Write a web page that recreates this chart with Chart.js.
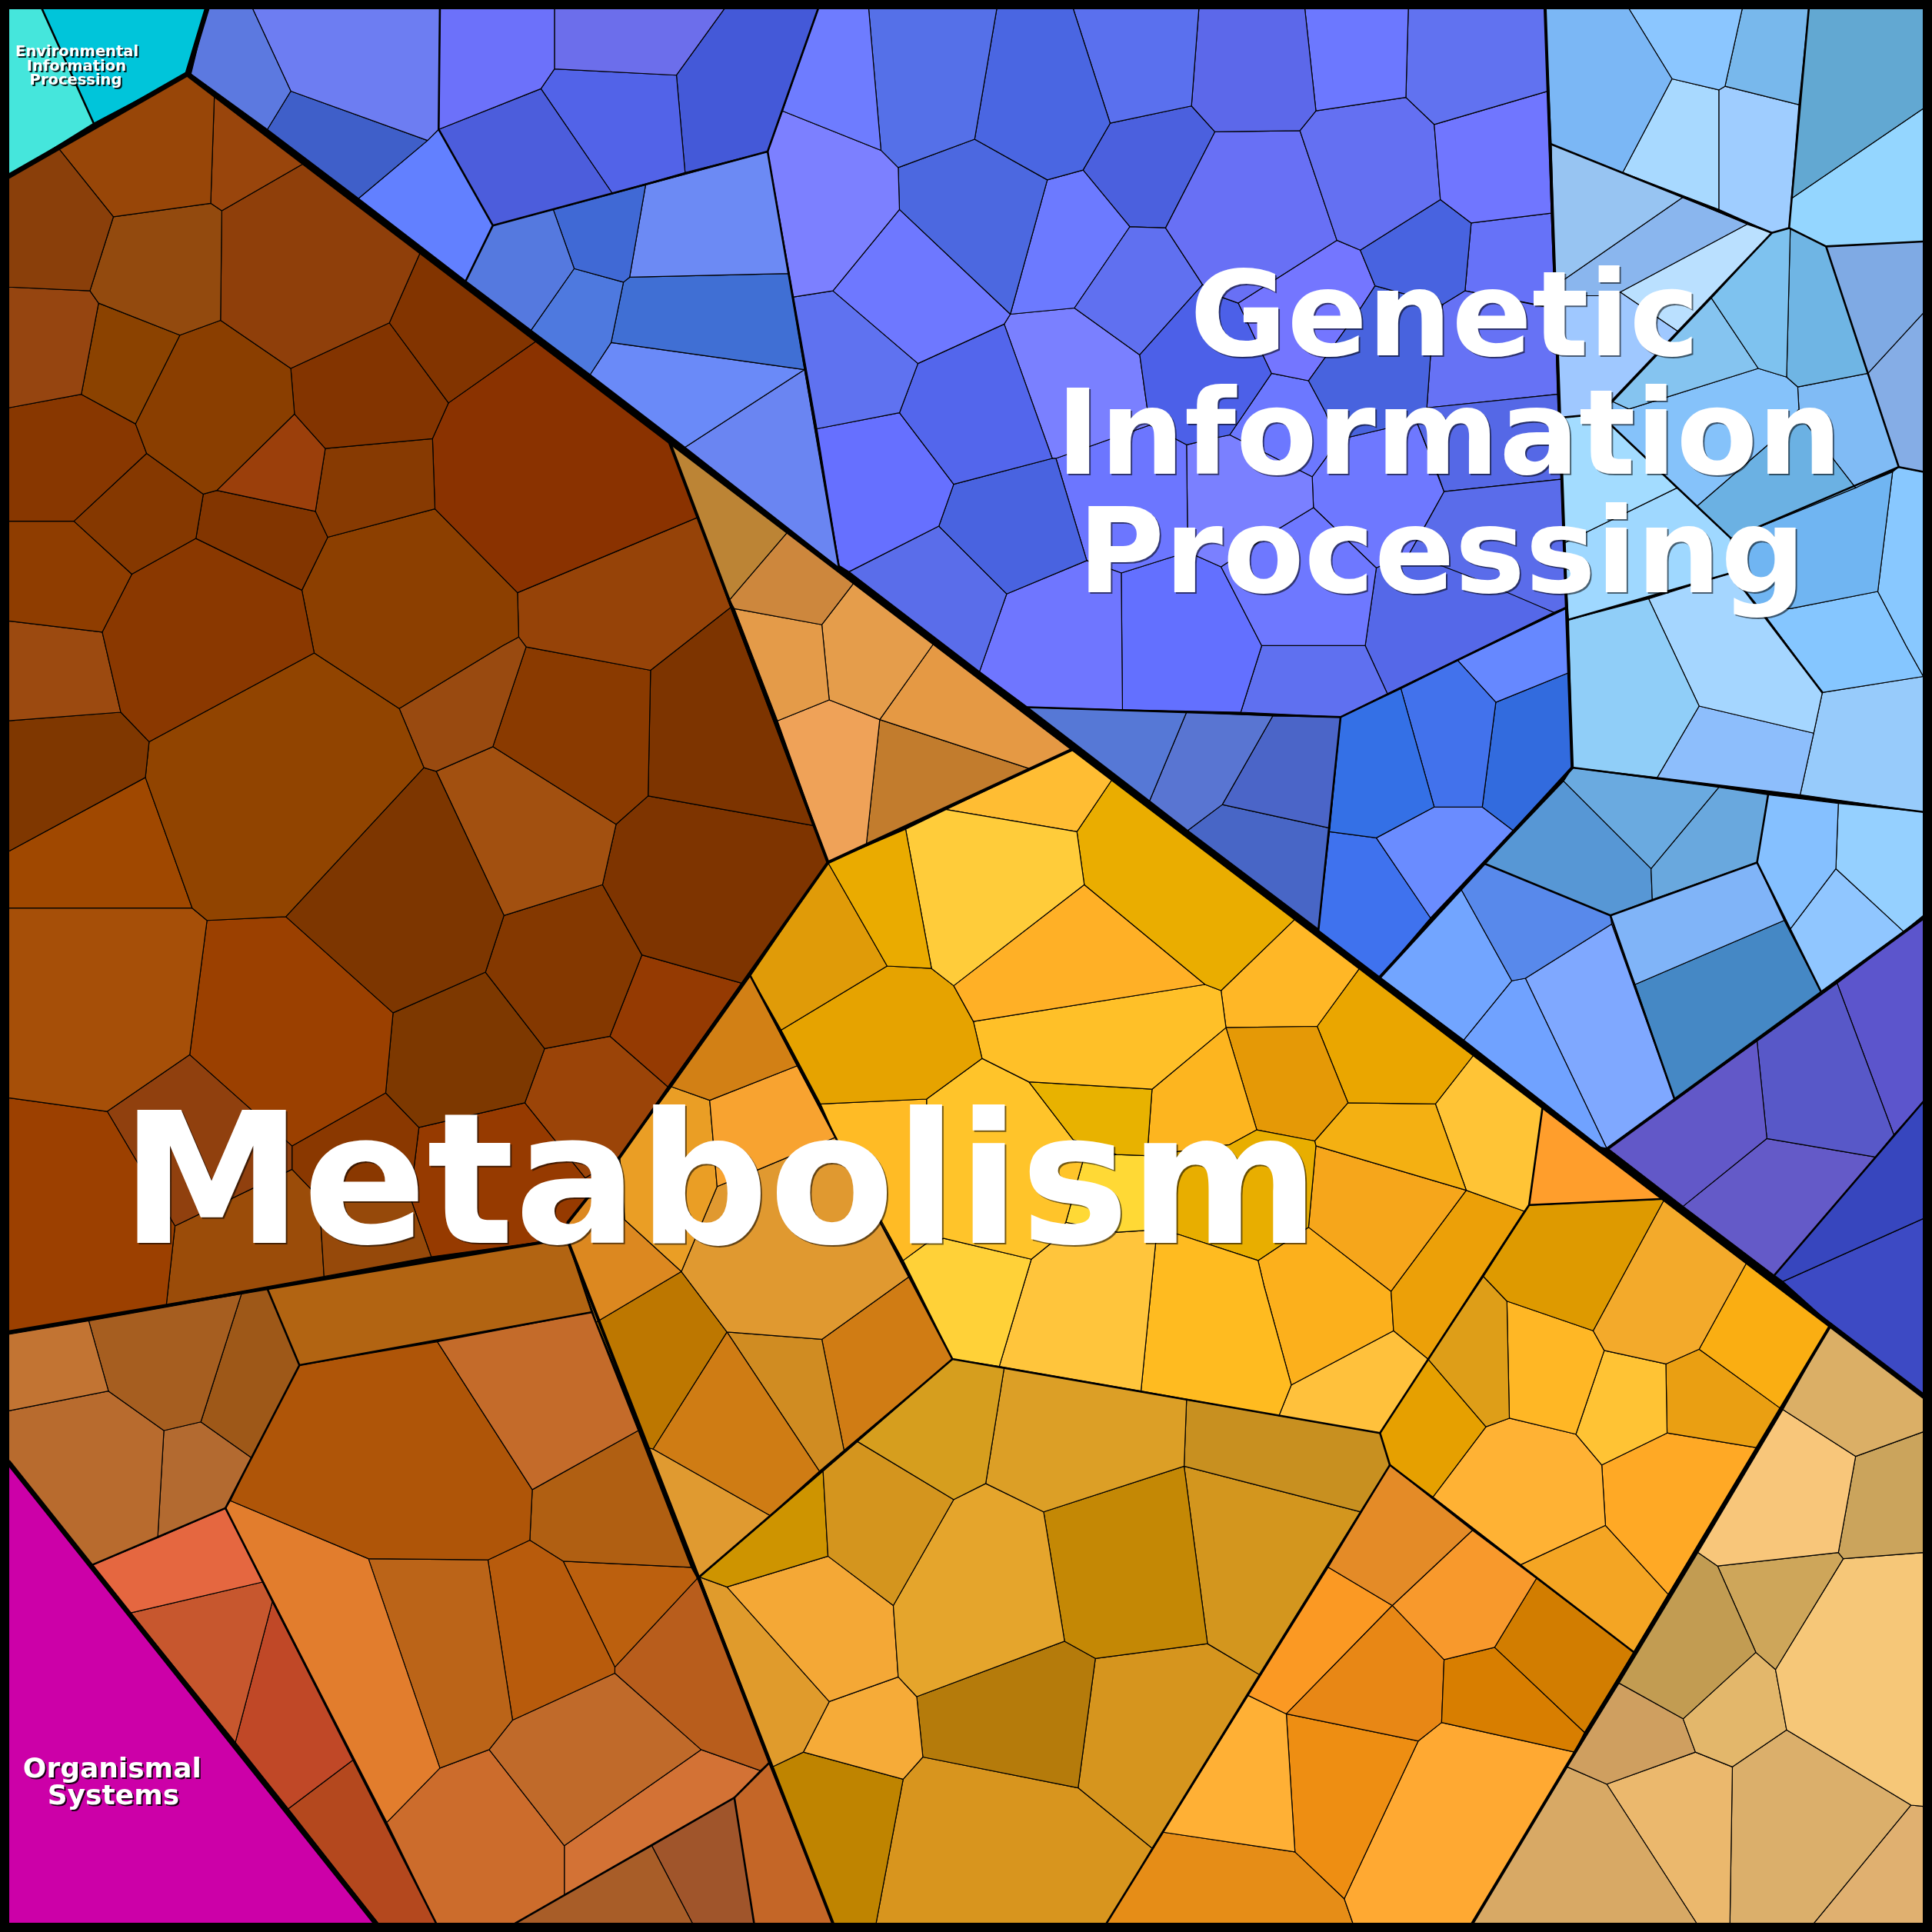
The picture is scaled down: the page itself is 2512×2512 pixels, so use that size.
<!DOCTYPE html>
<html>
<head>
<meta charset="utf-8">
<title>Voronoi treemap</title>
<script src="https://cdn.jsdelivr.net/npm/chart.js@4"></script>
<style>
  html, body { margin: 0; padding: 0; background: #000; }
  canvas { display: block; }
</style>
</head>
<body>
<canvas id="voronoi" width="2512" height="2512"></canvas>
<script>
// every cell is a flat x,y list in a 1568 x 1568 value space, colours sit in a parallel list
const envCells = [
  [7,7,34,7,76,100,7,143],
  [34,7,168,7,152,60,76,100]
];
const envColours = ['#45E6DC','#00C5DA'];

const organismCells = [
  [7,1187,305,1561,7,1561]
];
const organismColours = ['#CC00A8'];

const blueLeftCells = [
  [168,7,205,7,236,74,217,105,155,60],
  [205,7,357,7,356,105,347,114,236,74],
  [236,74,347,114,291,161,217,105],
  [356,105,400,183,378,228,291,161,347,114],
  [357,7,450,7,450,56,439,72,356,105],
  [450,7,588,7,549,61,450,56],
  [439,72,497,157,400,183,356,105],
  [450,56,549,61,556,140,497,157,439,72],
  [588,7,664,7,623,123,556,140,549,61],
  [400,183,449,170,466,218,431,268,378,228],
  [449,170,524,150,511,225,506,229,466,218],
  [466,218,506,229,496,278,479,304,431,268],
  [524,150,623,123,640,222,511,225],
  [511,225,640,222,653,300,496,278,506,229],
  [496,278,653,300,556,363,479,304],
  [653,300,681,461,556,363]
];
const blueLeftColours = ['#5C79E0','#6D7DF2','#3F5FC9','#6280FF','#6C71FA','#6C6EEB','#4C5DDC','#5263E8','#4459D8',
  '#5579DF','#4069D5','#4E79DF','#6C8AF4','#406FD4','#6A8AF8','#6A85F2'];

const blueMiddleCells = [
  [664,7,705,7,715,122,635,90],
  [705,7,809,7,791,113,729,136,715,122],
  [809,7,871,7,901,100,879,138,850,146,791,113],
  [871,7,973,7,967,86,901,100],
  [973,7,1059,7,1068,90,1055,106,986,107,967,86],
  [1059,7,1143,7,1141,79,1068,90],
  [1143,7,1254,7,1256,74,1164,101,1141,79],
  [1164,101,1256,74,1259,173,1194,181,1169,162],
  [1055,106,1068,90,1141,79,1164,101,1169,162,1104,203,1085,195],
  [986,107,1055,106,1085,195,1005,246,991,241,976,231,946,185],
  [1104,203,1169,162,1194,181,1189,236,1171,247,1116,232],
  [1116,232,1171,247,1161,289,1158,331,1150,343,1124,348,1094,355,1084,358,1076,335,1062,309,1105,249],
  [1005,246,1085,195,1104,203,1116,232,1105,249,1062,309,1032,303],
  [976,231,991,241,1005,246,1032,303,998,353,988,355,963,361,933,345,925,288],
  [872,250,917,184,946,185,976,231,925,288],
  [635,90,715,122,729,136,730,170,676,236,644,241,623,123],
  [729,136,791,113,850,146,820,255,730,170],
  [850,146,879,138,917,184,872,250,820,255],
  [879,138,901,100,967,86,986,107,946,185,917,184],
  [730,170,820,255,815,263,745,295,676,236],
  [644,241,676,236,745,295,730,335,663,348],
  [745,295,815,263,854,372,774,393,730,335],
  [820,255,872,250,925,288,933,345,857,372,854,372,815,263],
  [663,348,730,335,774,393,762,427,689,464,681,459],
  [774,393,854,372,857,372,882,455,817,482,762,427],
  [689,464,762,427,817,482,795,545],
  [817,482,882,455,910,465,911,576,834,574,795,545],
  [857,372,933,345,963,361,964,448,910,465,882,455],
  [963,361,988,355,998,353,1065,387,1066,412,1038,429,991,460,964,448],
  [991,460,1038,429,1066,412,1117,461,1108,524,1024,524],
  [910,465,964,448,991,460,1024,524,1007,578,911,576],
  [1024,524,1108,524,1126,563,1088,582,1007,578],
  [1117,461,1144,449,1198,470,1261,497,1126,563,1108,524],
  [1172,399,1267,389,1271,493,1261,497,1144,449,1156,428],
  [1158,331,1264,320,1267,389,1172,399,1167,385,1150,343],
  [1094,355,1124,348,1150,343,1172,399,1144,449,1117,461,1066,412,1065,387,1076,372,1084,358],
  [1171,247,1189,236,1254,249,1262,250,1264,320,1158,331,1161,289],
  [1194,181,1259,173,1262,250,1189,236],
  [998,353,1032,303,1062,309,1076,335,1084,358,1076,372,1065,387]
];
const blueMiddleColours = ['#6E7CFF','#5570E8','#4A66E2','#5A70EE','#5C68EA','#6C78FF','#6172F0','#7076FF','#6470F2','#6870F5',
  '#4863E0','#4863DE','#7476FF','#4C60E8','#6070F0','#7C80FF','#4C68E0','#6C7AFF','#4B60DE','#6E78FF',
  '#5F72F0','#5366EC','#7A80FF','#6670FF','#4963E0','#5A6DEA','#6F76FF','#6C76FF','#7A80FF','#6E78FF',
  '#6370FF','#5F70F0','#5568E8','#5A6CEA','#5568E6','#6E78FF','#6672F5','#6672F8','#6C78FF'];

const blueLowCells = [
  [834,574,963,578,933,650],
  [963,578,1033,581,992,653,964,674,933,650],
  [1033,581,1088,582,1079,672,992,653],
  [992,653,1079,672,1070,754,964,674],
  [1088,582,1137,559,1164,655,1117,680,1079,675],
  [1137,559,1183,536,1214,570,1203,655,1164,655],
  [1183,536,1271,494,1273,546,1214,570],
  [1214,570,1273,546,1276,623,1228,674,1203,655],
  [1164,655,1203,655,1228,674,1161,745,1117,680],
  [1079,675,1117,680,1161,745,1120,793,1070,755]
];
const blueLowColours = ['#5678D6','#5975D2','#4B65C8','#4866C6','#3470E6','#4272EC','#6688FF','#326BDE','#6A8CFF','#3F72EE'];

const skyCells = [
  [1254,7,1322,7,1357,64,1317,140,1259,117],
  [1322,7,1414,7,1400,70,1395,73,1357,64],
  [1414,7,1468,7,1460,85,1400,70],
  [1357,64,1395,73,1395,170,1317,140],
  [1395,73,1400,70,1460,85,1452,185,1438,189,1395,170],
  [1468,7,1561,7,1561,88,1454,161],
  [1454,161,1561,88,1561,196,1482,200,1452,185],
  [1482,200,1561,196,1561,254,1516,303],
  [1516,303,1561,254,1561,383,1541,379],
  [1259,117,1366,160,1262,232],
  [1366,160,1418,182,1315,237,1298,240,1263,240,1262,232],
  [1418,182,1438,189,1362,269,1315,237],
  [1263,240,1298,240,1315,237,1362,269,1298,336,1266,339],
  [1389,242,1438,189,1453,185,1450,306,1427,299],
  [1453,185,1482,200,1516,303,1459,314,1450,306],
  [1309,326,1389,242,1427,299,1322,332],
  [1298,336,1309,326,1322,332,1427,299,1450,306,1459,314,1460,332,1436,360,1377,411],
  [1460,332,1465,343,1506,396,1405,437,1377,411,1436,360],
  [1459,314,1516,303,1541,379,1506,396,1465,343,1460,332],
  [1266,339,1298,336,1361,396,1269,441],
  [1269,441,1361,396,1405,437,1405,465,1273,503],
  [1405,437,1536,383,1524,480,1453,494,1426,491,1405,465],
  [1536,383,1541,379,1561,383,1561,549,1547,524,1524,480],
  [1273,503,1338,486,1379,573,1345,631,1276,623],
  [1338,486,1405,465,1426,491,1479,562,1472,595,1379,573],
  [1379,573,1472,595,1461,645,1345,631],
  [1426,491,1453,494,1524,480,1547,524,1561,549,1479,562],
  [1479,562,1561,549,1561,659,1461,645,1472,595]
];
const skyColours = ['#7BB7F5','#8BC6FF','#78B8EC','#A8D9FF','#9FCDFF','#62A8D2','#94D6FF','#7FAAE4','#85ADE6','#97C4F2',
  '#8AB6EE','#BAE0FF','#9FC8FF','#7EC2EF','#6FB5E4','#85C4F0','#85C2FA','#6BB1E3','#80BBF5','#A3DCFF',
  '#9FD8FF','#70B5F2','#88C8FF','#90CEF8','#A5D6FF','#8DBEFC','#85C6FF','#97CBFB'];

const steelCells = [
  [1276,623,1395,639,1340,705,1269,634],
  [1395,639,1435,645,1426,700,1341,730,1340,705],
  [1269,634,1340,705,1341,730,1307,743,1205,701],
  [1205,701,1307,743,1308,750,1238,794,1227,796,1186,722],
  [1120,793,1186,722,1227,796,1188,844],
  [1188,844,1227,796,1238,794,1304,932,1299,931],
  [1238,794,1308,750,1359,892,1304,932],
  [1307,743,1341,730,1426,700,1448,747,1327,799,1308,750],
  [1327,799,1448,747,1478,805,1359,892],
  [1435,645,1492,652,1490,705,1453,754,1426,700],
  [1492,652,1561,659,1561,743,1545,756,1490,705],
  [1453,754,1490,705,1545,756,1478,805]
];
const steelColours = ['#6AAAE0','#69A8DE','#5797D5','#5889EB','#72A5FF','#70A2FF','#7FA8FF','#80B4F8','#4588C5','#85C0FF','#95D0FF','#90C6FF'];

const violetCells = [
  [1305,932,1426,845,1434,924,1366,979],
  [1426,845,1491,798,1537,921,1522,939,1434,924],
  [1491,798,1561,745,1561,894,1537,921],
  [1434,924,1522,939,1440,1035,1366,979],
  [1522,939,1561,894,1561,989,1447,1040,1440,1035],
  [1447,1040,1561,989,1561,1133,1486,1075]
];
const violetColours = ['#6258C8','#5858C8','#5C55CC','#645AC8','#3746BE','#3D4AC4'];

const brownCells = [
  [7,143,48,121,92,176,73,236,7,233],
  [48,121,152,60,174,77,171,165,92,176],
  [174,77,246,133,180,171,171,165],
  [92,176,171,165,180,171,179,260,146,272,80,246,73,236],
  [180,171,246,133,341,205,316,262,236,299,179,260],
  [7,233,73,236,80,246,66,320,7,331],
  [80,246,146,272,110,344,66,320],
  [146,272,179,260,236,299,239,336,176,398,165,401,119,368,110,344],
  [341,205,435,277,364,327,316,262],
  [236,299,316,262,364,327,351,356,264,364,239,336],
  [239,336,264,364,256,415,176,398],
  [264,364,351,356,353,413,266,436,256,415],
  [364,327,435,277,543,358,566,420,420,481,353,413,351,356],
  [7,331,66,320,110,344,119,368,60,423,7,423],
  [119,368,165,401,159,437,107,466,60,423],
  [165,401,176,398,256,415,266,436,245,479,159,437],
  [7,423,60,423,107,466,83,513,7,504],
  [107,466,159,437,245,479,255,530,121,602,98,578,83,513],
  [245,479,266,436,353,413,420,481,421,517,408,524,324,575,255,530],
  [7,504,83,513,98,578,7,585],
  [7,585,98,578,121,602,118,631,7,691],
  [121,602,255,530,324,575,344,623,232,744,168,747,156,737,118,631],
  [324,575,408,524,421,517,427,525,400,606,354,626,344,623],
  [420,481,566,420,593,493,528,544,427,525,421,517],
  [427,525,528,544,526,646,500,669,400,606],
  [344,623,354,626,409,743,394,789,319,822,232,744],
  [354,626,400,606,500,669,489,718,409,743],
  [528,544,593,493,660,670,526,646],
  [500,669,526,646,660,670,672,700,602,798,521,775,489,718],
  [409,743,489,718,521,775,495,841,442,851,394,789],
  [521,775,602,798,542,882,495,841],
  [7,691,118,631,156,737,7,737],
  [7,737,156,737,168,747,154,856,87,902,7,891],
  [168,747,232,744,319,822,313,887,237,930,154,856],
  [319,822,394,789,442,851,426,895,340,915,313,887],
  [442,851,495,841,542,882,503,939,475,956,426,895],
  [7,891,87,902,142,995,135,1059,7,1081],
  [87,902,154,856,237,930,237,949,142,995],
  [237,930,313,887,340,915,333,972,259,972,237,949],
  [259,972,333,972,350,1020,263,1036],
  [142,995,237,949,259,972,263,1036,135,1059],
  [340,915,426,895,475,956,503,939,461,992,460,1005,350,1020,333,972]
];
const brownColours = ['#8A3F0A','#984608','#99450C','#934A0E','#8F3F0A','#964510','#8B4200','#8A3E00','#823400','#833400',
  '#9B3F0B','#873A02','#8A3200','#883700','#853800','#823500','#8F3D00','#8A3800','#8C3F00','#9C4A10',
  '#7F3700','#914400','#994A10','#964308','#8A3A00','#7D3600','#A25010','#7D3400','#7E3400','#843800',
  '#953A02','#A04800','#A64F08','#9B4000','#7D3800','#9B4408','#9C4000','#90400E','#8A3800','#96490A',
  '#9B4C09','#963A00'];

const tanCells = [
  [543,358,639,432,592,487],
  [639,432,693,473,667,507,596,494,592,487],
  [596,494,667,507,673,568,631,585],
  [667,507,693,473,758,522,714,584,673,568],
  [758,522,872,607,836,624,714,584],
  [631,585,673,568,714,584,703,686,672,700],
  [714,584,836,624,703,686]
];
const tanColours = ['#BC8435','#CD873D','#E49B49','#E59D4B','#E59944','#EFA258','#C27C2D'];

const goldCells = [
  [672,700,735,673,756,786,720,784],
  [735,673,768,657,874,675,880,718,774,800,756,786],
  [768,657,873,607,903,632,874,675],
  [903,632,1051,746,991,804,978,799,880,718,874,675],
  [880,718,978,799,790,829,774,800],
  [672,700,720,784,634,836,609,792],
  [720,784,756,786,774,800,790,829,797,859,752,892,666,896,634,836],
  [790,829,978,799,991,804,995,834,935,884,835,878,797,859],
  [835,878,935,884,931,938,906,937,871,925],
  [666,896,752,892,752,1009,733,1023,678,923],
  [752,892,797,859,835,878,871,925,879,942,865,992,853,1009,837,1022,766,1005,752,1009],
  [733,1023,752,1009,766,1005,837,1022,811,1109,773,1103],
  [879,942,906,937,931,938,939,998,907,1000,865,992],
  [837,1022,853,1009,865,992,907,1000,939,998,926,1129,811,1109],
  [939,998,957,1002,1021,1023,1026,1044,1048,1124,1038,1149,926,1129],
  [931,938,998,929,1020,917,1067,926,1068,930,1062,996,1042,1009,1021,1023,957,1002,939,998],
  [935,884,995,834,1020,917,998,929,931,938],
  [995,834,1069,833,1094,895,1067,926,1020,917],
  [991,804,1051,746,1104,785,1069,833,995,834],
  [1104,785,1197,855,1165,896,1094,895,1069,833],
  [1094,895,1165,896,1190,966,1068,930,1067,926],
  [1165,896,1197,855,1252,898,1241,978,1237,983,1190,966],
  [1068,930,1190,966,1129,1048,1062,996],
  [1190,966,1237,983,1159,1103,1131,1080,1129,1048],
  [1021,1023,1042,1009,1062,996,1129,1048,1131,1080,1048,1124,1026,1044],
  [1048,1124,1131,1080,1159,1103,1120,1163,1038,1149],
  [1252,898,1351,973,1241,978]
];
const goldColours = ['#EAAB00','#FFCC3A','#FFBD33','#EAAD00','#FFB026','#E09B08','#E6A300','#FFC028','#E8B200','#FFBB25',
  '#FFC42A','#FFD138','#FFD935','#FFC53C','#FFBB20','#E8AE00','#FDB51F','#E59906','#FFB726','#EAA600',
  '#F4B012','#FFC436','#F6A61B','#ECA008','#FCB01C','#FFC13C','#FF9E2C'];

const amberCells = [
  [1241,978,1351,973,1293,1080,1223,1056,1204,1036],
  [1351,973,1418,1024,1379,1095,1352,1107,1302,1096,1293,1080],
  [1418,1024,1486,1075,1445,1143,1379,1095],
  [1204,1036,1223,1056,1225,1151,1206,1158,1159,1103],
  [1223,1056,1293,1080,1302,1096,1279,1164,1225,1151],
  [1302,1096,1352,1107,1353,1163,1300,1189,1279,1164],
  [1352,1107,1379,1095,1445,1143,1426,1175,1353,1163],
  [1159,1103,1206,1158,1163,1215,1128,1189,1120,1163],
  [1206,1158,1225,1151,1279,1164,1300,1189,1303,1238,1234,1270,1163,1215],
  [1300,1189,1353,1163,1426,1175,1354,1294,1303,1238],
  [1234,1270,1303,1238,1354,1294,1326,1341],
  [1128,1189,1195,1242,1130,1303,1078,1272],
  [1195,1242,1247,1281,1213,1337,1172,1347,1130,1303],
  [1247,1281,1326,1341,1286,1406,1213,1337],
  [1213,1337,1286,1406,1278,1422,1170,1398,1172,1347],
  [1130,1303,1172,1347,1170,1398,1151,1413,1044,1391],
  [1078,1272,1130,1303,1044,1391,1013,1376],
  [1013,1376,1044,1391,1051,1503,944,1487],
  [1044,1391,1151,1413,1091,1541,1051,1503],
  [1151,1413,1170,1398,1278,1422,1195,1561,1098,1561,1091,1541],
  [944,1487,1051,1503,1091,1541,1098,1561,898,1561]
];
const amberColours = ['#DE9A00','#F3AA2B','#FAAE12','#DE9E18','#FFB725','#FFC334','#EA9F12','#E6A000','#FFB234','#FFA925',
  '#F4A523','#E48B27','#F8992C','#D27D00','#D87E00','#E88715','#FB9923','#FFB035','#EE8E12','#FFA932','#E68D17'];

const sandCells = [
  [1486,1075,1561,1132,1561,1162,1506,1182,1447,1144],
  [1447,1144,1506,1182,1492,1260,1394,1271,1378,1260],
  [1506,1182,1561,1162,1561,1260,1496,1265,1492,1260],
  [1378,1260,1394,1271,1425,1341,1366,1395,1314,1366],
  [1394,1271,1492,1260,1496,1265,1441,1355,1425,1341],
  [1496,1265,1561,1260,1561,1466,1551,1465,1450,1404,1441,1355],
  [1425,1341,1441,1355,1450,1404,1406,1434,1376,1422,1366,1395],
  [1314,1366,1366,1395,1376,1422,1304,1448,1272,1434],
  [1272,1434,1304,1448,1377,1561,1195,1561],
  [1304,1448,1376,1422,1406,1434,1404,1561,1377,1561],
  [1406,1434,1450,1404,1551,1465,1472,1561,1404,1561],
  [1551,1465,1561,1466,1561,1561,1472,1561]
];
const sandColours = ['#DBAF66','#F8C67A','#CBA45C','#C29C52','#CEA65A','#F6C778','#E3B76B','#CF9F60','#D8A965','#EBB86D','#DBAF6B','#E0B070'];

const orangeCells = [
  [609,792,647,865,576,893,545,882],
  [576,893,647,865,678,923,616,949,582,963],
  [545,882,576,893,582,963,553,1032,507,990,503,939],
  [582,963,616,949,678,923,716,992,738,1036,667,1087,590,1081,553,1032],
  [460,1005,461,992,503,939,507,990,553,1032,484,1073],
  [553,1032,590,1081,530,1176,526,1175,484,1073],
  [590,1081,665,1194,625,1230,530,1176],
  [590,1081,667,1087,685,1177,665,1194],
  [667,1087,738,1036,773,1103,685,1177],
  [530,1176,625,1230,566,1281,526,1175]
];
const orangeColours = ['#D28015','#F8A330','#EA9E25','#E09930','#DC8820','#BD7700','#CF7C14','#D08C22','#D07C14','#E09A30'];

const ochreCells = [
  [773,1103,815,1110,800,1204,774,1217,696,1170],
  [815,1110,963,1136,961,1190,847,1227,800,1204],
  [963,1136,1120,1163,1128,1189,1104,1227,961,1190],
  [668,1194,696,1170,774,1217,725,1303,672,1263],
  [800,1204,847,1227,864,1332,744,1377,729,1361,725,1303,774,1217],
  [847,1227,961,1190,980,1334,889,1346,864,1332],
  [961,1190,1104,1227,1022,1359,980,1334],
  [568,1280,668,1194,672,1263,590,1288],
  [590,1288,672,1263,725,1303,729,1361,673,1381],
  [568,1280,590,1288,673,1381,652,1422,627,1434],
  [673,1381,729,1361,744,1377,749,1426,733,1444,652,1422],
  [744,1377,864,1332,889,1346,875,1451,749,1426],
  [889,1346,980,1334,1022,1359,935,1500,875,1451],
  [627,1434,652,1422,733,1444,711,1561,676,1561],
  [733,1444,749,1426,875,1451,935,1500,899,1561,711,1561]
];
const ochreColours = ['#D69E1E','#DC9F26','#C89020','#D4951E','#E5A52C','#C48805','#D3961E','#CE9400','#F4A836','#E09B2C',
  '#F6AB38','#B57B0B','#D6951E','#BF8400','#D8951E'];

const rustCells = [
  [7,1083,72,1072,88,1129,7,1145],
  [72,1072,196,1050,163,1154,133,1161,88,1129],
  [196,1050,217,1046,243,1108,204,1183,163,1154],
  [7,1145,88,1129,133,1161,128,1248,75,1270,7,1187],
  [133,1161,163,1154,204,1183,183,1224,128,1248],
  [217,1046,460,1005,480,1065,243,1108],
  [355,1089,480,1065,518,1161,432,1209],
  [243,1108,355,1089,432,1209,430,1250,396,1266,299,1265,187,1218,204,1183],
  [432,1209,518,1161,561,1272,457,1267,430,1250],
  [187,1218,299,1265,357,1435,314,1479,183,1224],
  [299,1265,396,1266,416,1396,397,1420,357,1435],
  [396,1266,430,1250,457,1267,499,1353,499,1358,416,1396],
  [457,1267,561,1272,566,1281,499,1353],
  [499,1353,566,1281,624,1431,617,1437,569,1420,499,1358],
  [416,1396,499,1358,569,1420,458,1498,397,1420],
  [357,1435,397,1420,458,1498,458,1538,418,1561,354,1561,314,1479],
  [458,1498,569,1420,617,1437,596,1459,458,1538],
  [458,1538,529,1498,562,1561,418,1561],
  [529,1498,596,1459,612,1561,562,1561],
  [596,1459,624,1431,676,1561,612,1561],
  [75,1270,183,1224,213,1284,106,1309],
  [106,1309,213,1284,221,1300,191,1414],
  [221,1300,287,1428,234,1468,191,1414],
  [234,1468,287,1428,354,1561,307,1561]
];
const rustColours = ['#C27433','#A65E20','#9E5818','#B86B2E','#B36A30','#B26412','#C46B2A','#AF5508','#B05F12','#E27D2D',
  '#BB6418','#B85B0C','#BC600E','#B85D1C','#C06A2A','#CC6C2C','#D37235','#A85D28','#A0552B','#C46627',
  '#E56740','#C7572E','#C04827','#B4481E'];

// division lines on top of the cells, one list per stroke weight
const heavyLines = [
  [7,143,152,60,168,7],
  [152,60,1561,1133],
  [7,1187,305,1561]
];
const mediumLines = [
  [543,358,672,700,873,607],
  [672,700,503,939,461,992,460,1005,7,1081],
  [460,1005,676,1561],
  [1486,1075,1195,1561],
  [1120,793,1276,623],
  [1254,7,1276,623],
  [1305,932,1561,745]
];
const lightLines = [
  [34,7,76,100],
  [357,7,356,105,400,183,378,228],
  [400,183,623,123],
  [664,7,623,123,681,461],
  [834,574,1088,582,1271,493],
  [1088,582,1070,755],
  [1276,623,1561,659],
  [1205,701,1307,743,1426,700,1478,805],
  [1307,743,1359,892],
  [1435,645,1426,700],
  [1259,117,1438,189,1452,185,1482,200,1561,196],
  [1468,7,1452,185],
  [1482,200,1541,379,1561,383],
  [1438,189,1298,336,1405,437,1541,379],
  [1266,339,1298,336],
  [1273,503,1405,465],
  [1405,437,1405,465,1479,562],
  [1440,1035,1561,894],
  [609,792,773,1103,1120,1163],
  [773,1103,566,1281],
  [1120,1163,1128,1189,1326,1341],
  [1128,1189,898,1561],
  [1252,898,1241,978,1120,1163],
  [1241,978,1351,973],
  [217,1046,243,1108,183,1224],
  [75,1270,183,1224,354,1561],
  [243,1108,480,1065],
  [418,1561,596,1459,624,1431],
  [596,1459,612,1561]
];
const frameLine = [3.75,3.75,1564.25,3.75,1564.25,1564.25,3.75,1564.25,3.75,3.75];

// text blocks: lines of text and the value-space spot of each line
const labelLines = [
  ['Metabolism'],
  ['Genetic','Information','Processing'],
  ['Environmental','Information','Processing'],
  ['Organismal','Systems']
];
const labelX = [
  [584.5],
  [1172.5,1176,1170],
  [62.5,62,61.5],
  [91,92]
];
const labelBaseY = [
  [1008.7],
  [288.3,384.5,480.6],
  [45.6,57.4,68.7],
  [1442.3,1464.4]
];
const labelFontPx = [238, 154, 19.5, 36];
const labelShadow = ['rgba(0,0,0,0.55)', 'rgba(0,0,0,0.55)', 'rgba(0,0,0,0.85)', 'rgba(0,0,0,0.85)'];

function toPoints(flat) {
  const pts = [];
  for (let i = 0; i < flat.length; i += 2) pts.push({x: flat[i], y: flat[i + 1]});
  return pts;
}

function cellSet(cells, colours) {
  return cells.map((c, i) => {
    const pts = toPoints(c);
    pts.push(pts[0]);
    return {data: pts, backgroundColor: colours[i], borderColor: '#000', borderWidth: 1.2, fill: 'shape', showLine: true, pointRadius: 0, borderJoinStyle: 'round'};
  });
}

function lineSet(lines, width) {
  return lines.map(l => ({data: toPoints(l), borderColor: '#000', borderWidth: width, fill: false, showLine: true, pointRadius: 0, borderJoinStyle: 'round', borderCapStyle: 'round'}));
}

// chart.js paints the first dataset last, so top layers come first
const datasets = [
  ...lineSet([frameLine], 12),
  ...lineSet(heavyLines, 6.5),
  ...lineSet(mediumLines, 4),
  ...lineSet(lightLines, 2.6),
  ...cellSet(envCells, envColours),
  ...cellSet(organismCells, organismColours),
  ...cellSet(blueLeftCells, blueLeftColours),
  ...cellSet(blueMiddleCells, blueMiddleColours),
  ...cellSet(blueLowCells, blueLowColours),
  ...cellSet(skyCells, skyColours),
  ...cellSet(steelCells, steelColours),
  ...cellSet(violetCells, violetColours),
  ...cellSet(brownCells, brownColours),
  ...cellSet(tanCells, tanColours),
  ...cellSet(goldCells, goldColours),
  ...cellSet(amberCells, amberColours),
  ...cellSet(sandCells, sandColours),
  ...cellSet(orangeCells, orangeColours),
  ...cellSet(ochreCells, ochreColours),
  ...cellSet(rustCells, rustColours)
];

const labelPlugin = {
  id: 'regionLabels',
  afterDatasetsDraw(chart) {
    const ctx = chart.ctx;
    const xs = chart.scales.x, ys = chart.scales.y;
    ctx.save();
    ctx.textAlign = 'center';
    ctx.textBaseline = 'alphabetic';
    ctx.fillStyle = '#fff';
    labelLines.forEach((lines, i) => {
      ctx.font = 'bold ' + labelFontPx[i] + 'px "DejaVu Sans"';
      ctx.shadowColor = labelShadow[i];
      ctx.shadowOffsetX = 2;
      ctx.shadowOffsetY = 2;
      ctx.shadowBlur = 0;
      lines.forEach((t, j) => {
        ctx.fillText(t, xs.getPixelForValue(labelX[i][j]), ys.getPixelForValue(labelBaseY[i][j]));
      });
    });
    ctx.restore();
  }
};

new Chart('voronoi', {
  type: 'scatter',
  data: {datasets: datasets},
  options: {
    responsive: false,
    animation: false,
    devicePixelRatio: 1,
    layout: {padding: 0},
    plugins: {legend: {display: false}, tooltip: {enabled: false}, title: {display: false}},
    scales: {
      x: {type: 'linear', display: false, min: 0, max: 1568},
      y: {type: 'linear', display: false, min: 0, max: 1568, reverse: true}
    }
  },
  plugins: [labelPlugin]
});
</script>
</body>
</html>
